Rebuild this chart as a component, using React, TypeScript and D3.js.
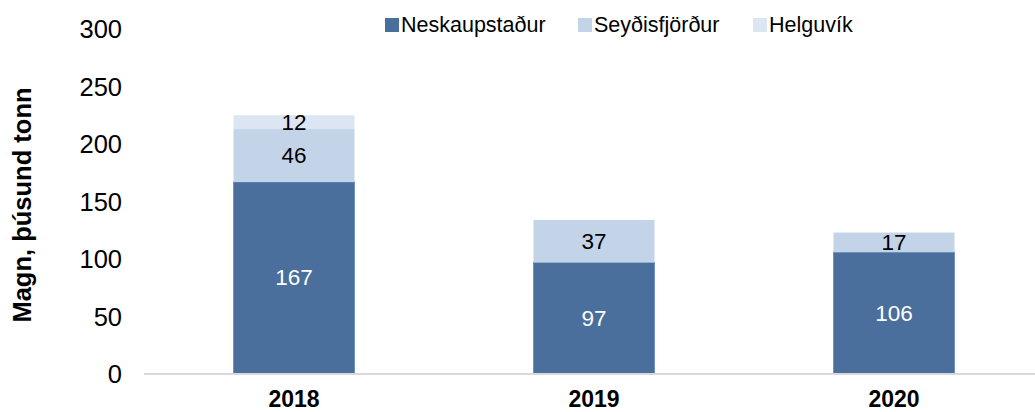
import React from "react";
import * as d3 from "d3";

const categories = ["2018", "2019", "2020"];
const seriesNames = ["Neskaupstaður", "Seyðisfjörður", "Helguvík"];
const neskaupstadur = [167, 97, 106];
const seydisfjordur = [46, 37, 17];
const helguvik = [12, 0, 0];
const yTicks = [0, 50, 100, 150, 200, 250, 300];
const colors = ["#4A6F9C", "#C3D3E8", "#DCE6F2"];
const labelColors = ["#FFFFFF", "#000000", "#000000"];

const W = 1035;
const H = 412;
const FONT = "'Liberation Sans', Arial, Helvetica, sans-serif";

export default function App() {
  const x = d3
    .scaleBand<string>()
    .domain(categories)
    .range([144, 1044])
    .paddingInner(0.5967)
    .paddingOuter(0.5967 / 2);
  const y = d3.scaleLinear().domain([0, 300]).range([374, 29]);

  const rows = categories.map((c, i) => ({
    cat: c,
    [seriesNames[0]]: neskaupstadur[i],
    [seriesNames[1]]: seydisfjordur[i],
    [seriesNames[2]]: helguvik[i],
  }));
  const stack = d3.stack<any>().keys(seriesNames)(rows);

  const legendX = [401, 594, 769];

  return (
    <svg
      width={W}
      height={H}
      style={{ position: "absolute", left: 0, top: 0, background: "#fff" }}
      fontFamily={FONT}
    >
      {/* y ticks */}
      {yTicks.map((t) => (
        <text
          key={t}
          x={122}
          y={y(t)}
          textAnchor="end"
          dominantBaseline="central"
          fontSize={25.5}
          fill="#000"
        >
          {t}
        </text>
      ))}
      {/* y title */}
      <text
        transform={`translate(31,205) rotate(-90)`}
        textAnchor="middle"
        fontSize={25.5}
        fontWeight="bold"
        fill="#000"
      >
        Magn, þúsund tonn
      </text>
      {/* bars */}
      {stack.map((layer, si) => (
        <g key={seriesNames[si]}>
          {layer.map((d, ci) => {
            const v = d[1] - d[0];
            if (v <= 0) return null;
            const x0 = x(categories[ci])!;
            return (
              <rect
                key={ci}
                x={x0}
                y={y(d[1])}
                width={x.bandwidth()}
                height={y(d[0]) - y(d[1])}
                fill={colors[si]}
                stroke={si === 0 ? "#6E92C6" : "none"}
                strokeWidth={1}
              />
            );
          })}
        </g>
      ))}
      {/* axis line */}
      <line x1={144} x2={1035} y1={374} y2={374} stroke="#D9D9D9" strokeWidth={2} />
      {/* data labels */}
      {stack.map((layer, si) => (
        <g key={"l" + seriesNames[si]}>
          {layer.map((d, ci) => {
            const v = d[1] - d[0];
            if (v <= 0) return null;
            return (
              <text
                key={ci}
                x={x(categories[ci])! + x.bandwidth() / 2}
                y={y((d[0] + d[1]) / 2)}
                textAnchor="middle"
                dominantBaseline="central"
                fontSize={22.5}
                fill={labelColors[si]}
              >
                {v}
              </text>
            );
          })}
        </g>
      ))}
      {/* x labels */}
      {categories.map((c) => (
        <text
          key={c}
          x={x(c)! + x.bandwidth() / 2}
          y={407}
          textAnchor="middle"
          fontSize={23}
          fontWeight="bold"
          fill="#000"
        >
          {c}
        </text>
      ))}
      {/* legend */}
      {seriesNames.map((n, i) => (
        <g key={n}>
          <rect x={legendX[i] - 16} y={18} width={14} height={14} fill={colors[i]} />
          <text x={legendX[i]} y={25} dominantBaseline="central" fontSize={21.5} fill="#000">
            {n}
          </text>
        </g>
      ))}
    </svg>
  );
}
